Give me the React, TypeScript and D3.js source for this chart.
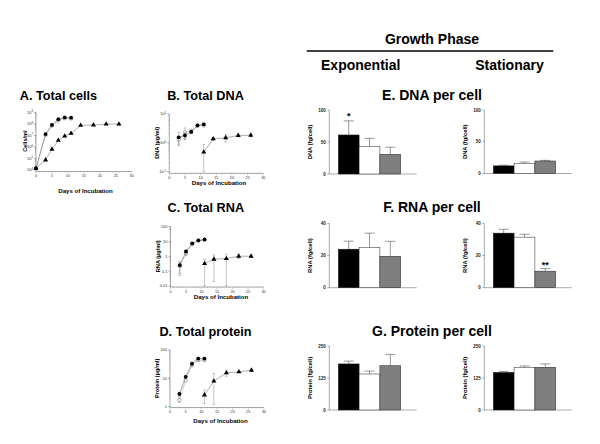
import * as d3 from 'd3';

const FONT = '"Liberation Sans", Arial, Helvetica, sans-serif';

// ---- time courses (days of incubation) ----
const cellsDaysExp = [0, 3, 5, 7, 9, 11];
const cellsExpFilled = [1.4e4, 1.3e7, 8e7, 2.5e8, 3.6e8, 3.4e8];
const cellsExpOpen = [1.4e4, 1.1e7, 7e7, 1.9e8, 3.1e8, 2.9e8];
const cellsDaysStat = [0, 3, 5, 7, 9, 11, 14, 18, 22, 26];
const cellsStat = [1.4e4, 7.4e4, 6.2e5, 3.7e6, 8.7e6, 1.5e7, 7.4e7, 8e7, 9.5e7, 9.5e7];

const expDays = [3, 5, 7, 9, 11];
const statDays = [11, 14, 18, 22, 26];

const dnaExpFilled = [1.55, 1.8, 2.4, 4.0, 4.4];
const dnaExpFilledSd = [0.75, 0.5, 0.3, 0.3, 0.4];
const dnaExpOpen = [1.3, 2.3, 2.6, 4.0, 4.0];
const dnaExpOpenSd = [0.4, 1.0, 0.3, 0.3, 0.3];
const dnaStat = [0.48, 1.37, 1.5, 1.8, 1.83];
const dnaStatSd = [0.4, 0.15, 0.45, 0.2, 0.2];

const rnaExpFilled = [0.25, 2.1, 7.4, 11.7, 13.5];
const rnaExpFilledSd = [0.2, 0.6, 1, 1.5, 1.5];
const rnaExpOpen = [0.22, 1.6, 6.5, 11, 12];
const rnaExpOpenSd = [0.15, 0.5, 1, 1.5, 1.5];
const rnaStat = [0.32, 0.63, 0.7, 1.0, 1.0];
const rnaStatSd = [0.31, 0.61, 0.69, 0.3, 0.2];

const protExpFilled = [2.8, 11.3, 33, 50, 50];
const protExpFilledSd = [0.5, 1.5, 4, 5, 5];
const protExpOpen = [1.7, 8.6, 29, 44, 44];
const protExpOpenSd = [0.3, 1, 3, 4, 4];
const protStat = [2.6, 8, 15.6, 16.9, 19.4];
const protStatSd = [1.3, 6.8, 3.8, 1, 1];

const xTicks = [0, 5, 10, 15, 20, 25, 30];

// ---- per-cell values, three bars per phase ----
const barGroups = ['black', 'white', 'gray'];
const barFill: Record<string, string> = { black: '#000', white: '#fff', gray: '#7f7f7f' };

const dnaPerCellExp = [61, 42.7, 30.8];
const dnaPerCellExpSd = [22, 13, 11];
const dnaPerCellStat = [12, 16, 19.7];
const dnaPerCellStatSd = [1, 2, 1];
const rnaPerCellExp = [24, 25, 19.6];
const rnaPerCellExpSd = [5, 9, 9.3];
const rnaPerCellStat = [34, 31.5, 10.3];
const rnaPerCellStatSd = [2.4, 1.8, 1.6];
const protPerCellExp = [180, 140.6, 173];
const protPerCellExpSd = [11, 11.5, 44];
const protPerCellStat = [147, 167, 167];
const protPerCellStatSd = [4, 5, 13];

type Marker = 'filled' | 'open' | 'triangle';
interface Series { days: number[]; values: number[]; sd?: number[]; marker: Marker }

interface LogPanelProps {
  title: string; titleX: number; titleY: number;
  yLabel: string; yLabelX: number;
  x0: number; x1: number; yTop: number; yBottom: number; axisY: number;
  domain: [number, number]; ticks: number[]; sup: boolean;
  daysX: number; daysY: number;
  series: Series[];
}

const tri = d3.symbol().type(d3.symbolTriangle).size(11)() as string;

function LogPanel(p: LogPanelProps) {
  const x = d3.scaleLinear().domain([0, 30]).range([p.x0, p.x1]);
  const y = d3.scaleLog().domain(p.domain).range([p.yBottom, p.yTop]);
  const line = d3.line<[number, number]>().x(d => x(d[0])).y(d => y(d[1]));
  const minor: number[] = [];
  const e0 = Math.round(Math.log10(p.domain[0]));
  const e1 = Math.round(Math.log10(p.domain[1]));
  for (let e = e0; e < e1; e++) for (let k = 2; k < 10; k++) minor.push(k * Math.pow(10, e));
  const days = d3.range(0, 31);
  const order: Marker[] = ['open', 'filled', 'triangle'];
  const sorted = [...p.series].sort((a, b) => order.indexOf(a.marker) - order.indexOf(b.marker));
  return (
    <g fontFamily={FONT}>
      <text x={p.titleX} y={p.titleY + 4.5} fontSize={12.7} fontWeight="bold" textAnchor="middle">{p.title}</text>
      {/* axes */}
      <line x1={p.x0} x2={p.x0} y1={p.yTop} y2={p.axisY} stroke="#555" strokeWidth={0.5} />
      <line x1={p.x0} x2={p.x1} y1={p.axisY} y2={p.axisY} stroke="#555" strokeWidth={0.5} />
      {p.ticks.map(t => (
        <g key={t}>
          <line x1={p.x0 - 2} x2={p.x0} y1={y(t)} y2={y(t)} stroke="#555" strokeWidth={0.5} />
          <text x={p.x0 - 3} y={y(t) + 1.4} fontSize={4} textAnchor="end" fill="#333">
            {p.sup ? (
              <>10<tspan dy={-1.6} fontSize={2.8}>{Math.round(Math.log10(t))}</tspan></>
            ) : String(t)}
          </text>
        </g>
      ))}
      {minor.map(t => (
        <line key={t} x1={p.x0 - 1} x2={p.x0} y1={y(t)} y2={y(t)} stroke="#777" strokeWidth={0.4} />
      ))}
      {days.map(d => (
        <line key={d} x1={x(d)} x2={x(d)} y1={p.axisY} y2={p.axisY + (d % 5 === 0 ? 2 : 1)} stroke="#777" strokeWidth={0.4} />
      ))}
      {xTicks.map(t => (
        <text key={t} x={x(t)} y={p.axisY + 5.5} fontSize={3.8} textAnchor="middle" fill="#333">{t}</text>
      ))}
      <text x={p.daysX} y={p.daysY + 2} fontSize={6.1} fontWeight="bold" textAnchor="middle">Days of Incubation</text>
      <text transform={`translate(${p.yLabelX},${(p.yTop + p.yBottom) / 2}) rotate(-90)`} fontSize={5.6} fontWeight="bold" textAnchor="middle" dy={2}>{p.yLabel}</text>
      {/* data */}
      {sorted.map((s, i) => {
        const pts = s.days.map((d, j) => [d, s.values[j]] as [number, number]);
        return (
          <g key={i}>
            <path d={line(pts) ?? ''} fill="none" stroke={s.marker === 'open' ? '#aaa' : '#777'} strokeWidth={0.6} />
            {s.sd && pts.map(([d, v], j) => {
              const sd = s.sd![j];
              const lo = Math.max(v - sd, p.domain[0]);
              const hi = Math.min(v + sd, p.domain[1]);
              const cx = x(d);
              return (
                <g key={j} stroke="#888" strokeWidth={0.5}>
                  <line x1={cx} x2={cx} y1={y(lo)} y2={y(hi)} />
                  <line x1={cx - 1.3} x2={cx + 1.3} y1={y(hi)} y2={y(hi)} />
                  <line x1={cx - 1.3} x2={cx + 1.3} y1={y(lo)} y2={y(lo)} />
                </g>
              );
            })}
            {pts.map(([d, v], j) =>
              s.marker === 'triangle' ? (
                <path key={j} d={tri} transform={`translate(${x(d)},${y(v)})`} fill="#000" />
              ) : s.marker === 'filled' ? (
                <circle key={j} cx={x(d)} cy={y(v)} r={1.9} fill="#000" />
              ) : (
                <circle key={j} cx={x(d)} cy={y(v)} r={1.7} fill="#fff" stroke="#777" strokeWidth={0.6} />
              )
            )}
          </g>
        );
      })}
    </g>
  );
}

interface BarPanelProps {
  axisX: number; y0: number; yTopPx: number; max: number; ticks: number[];
  values: number[]; sd: number[]; yLabel: string; stars?: { index: number; text: string; y: number };
}

function BarPanel(p: BarPanelProps) {
  const y = d3.scaleLinear().domain([0, p.max]).range([p.y0, p.yTopPx]);
  const x = d3.scaleBand().domain(barGroups).range([p.axisX + 9, p.axisX + 71.4]).paddingInner(0);
  return (
    <g fontFamily={FONT}>
      <line x1={p.axisX} x2={p.axisX} y1={p.yTopPx} y2={p.y0} stroke="#555" strokeWidth={0.5} />
      <line x1={p.axisX} x2={p.axisX + 87.4} y1={p.y0} y2={p.y0} stroke="#555" strokeWidth={0.5} />
      {p.ticks.map(t => (
        <g key={t}>
          <line x1={p.axisX - 2} x2={p.axisX} y1={y(t)} y2={y(t)} stroke="#555" strokeWidth={0.5} />
          <text x={p.axisX - 3.6} y={y(t) + 1.6} fontSize={4.5} fontWeight="bold" textAnchor="end" fill="#222">{t}</text>
        </g>
      ))}
      <text transform={`translate(${p.axisX - 19.3},${(p.y0 + p.yTopPx) / 2}) rotate(-90)`} fontSize={5.8} fontWeight="bold" textAnchor="middle" dy={2}>{p.yLabel}</text>
      {barGroups.map((g, i) => {
        const bx = x(g)!;
        const bw = x.bandwidth();
        const top = y(p.values[i]);
        const errTop = y(p.values[i] + p.sd[i]);
        const cx = bx + bw / 2;
        return (
          <g key={g}>
            <line x1={cx} x2={cx} y1={top} y2={errTop} stroke="#333" strokeWidth={0.5} />
            <line x1={cx - 5} x2={cx + 5} y1={errTop} y2={errTop} stroke="#333" strokeWidth={0.5} />
            <rect x={bx} y={top} width={bw} height={p.y0 - top} fill={barFill[g]} stroke="#222" strokeWidth={0.5} />
          </g>
        );
      })}
      {p.stars && (
        <text x={x(barGroups[p.stars.index])! + x.bandwidth() / 2} y={p.stars.y + 3.5} fontSize={9} fontWeight="bold" textAnchor="middle">{p.stars.text}</text>
      )}
    </g>
  );
}

export default function App() {
  return (
    <svg width={600} height={444} style={{ position: 'absolute', left: 0, top: 0, background: '#fff' }}>
      <g fontFamily={FONT} fontWeight="bold" fontSize={14} textAnchor="middle">
        <text x={432} y={44}>Growth Phase</text>
        <text x={360.7} y={70}>Exponential</text>
        <text x={509.5} y={70}>Stationary</text>
      </g>
      <line x1={306.7} x2={553.3} y1={51} y2={51} stroke="#000" strokeWidth={1.3} />

      <LogPanel title="A. Total cells" titleX={58.5} titleY={95} yLabel="Cells/ml" yLabelX={25}
        x0={36} x1={131.7} yTop={112.3} yBottom={170} axisY={171.5}
        domain={[1e4, 1e9]} ticks={[1e4, 1e5, 1e6, 1e7, 1e8, 1e9]} sup
        daysX={85.5} daysY={191}
        series={[
          { days: cellsDaysExp, values: cellsExpOpen, marker: 'open' },
          { days: cellsDaysExp, values: cellsExpFilled, marker: 'filled' },
          { days: cellsDaysStat, values: cellsStat, marker: 'triangle' },
        ]} />
      <LogPanel title="B. Total DNA" titleX={205.5} titleY={95} yLabel="DNA (µg/ml)" yLabelX={156.7}
        x0={169.3} x1={263.3} yTop={114} yBottom={171.7} axisY={173.3}
        domain={[0.1, 10]} ticks={[0.1, 1, 10]} sup
        daysX={219} daysY={182.7}
        series={[
          { days: expDays, values: dnaExpOpen, sd: dnaExpOpenSd, marker: 'open' },
          { days: expDays, values: dnaExpFilled, sd: dnaExpFilledSd, marker: 'filled' },
          { days: statDays, values: dnaStat, sd: dnaStatSd, marker: 'triangle' },
        ]} />
      <LogPanel title="C. Total RNA" titleX={205.8} titleY={207} yLabel="RNA (µg/ml)" yLabelX={157.7}
        x0={170.5} x1={263.5} yTop={226.5} yBottom={286} axisY={287}
        domain={[0.01, 100]} ticks={[0.01, 0.1, 1, 10, 100]} sup={false}
        daysX={221} daysY={297.3}
        series={[
          { days: expDays, values: rnaExpOpen, sd: rnaExpOpenSd, marker: 'open' },
          { days: expDays, values: rnaExpFilled, sd: rnaExpFilledSd, marker: 'filled' },
          { days: statDays, values: rnaStat, sd: rnaStatSd, marker: 'triangle' },
        ]} />
      <LogPanel title="D. Total protein" titleX={205.5} titleY={331.5} yLabel="Protein (µg/ml)" yLabelX={156.7}
        x0={170} x1={264} yTop={350} yBottom={406.7} axisY={407.5}
        domain={[1, 100]} ticks={[1, 10, 100]} sup={false}
        daysX={220.5} daysY={420.7}
        series={[
          { days: expDays, values: protExpOpen, sd: protExpOpenSd, marker: 'open' },
          { days: expDays, values: protExpFilled, sd: protExpFilledSd, marker: 'filled' },
          { days: statDays, values: protStat, sd: protStatSd, marker: 'triangle' },
        ]} />

      <g fontFamily={FONT} fontWeight="bold" fontSize={14} textAnchor="middle">
        <text x={432} y={100}>E. DNA per cell</text>
        <text x={432} y={212}>F. RNA per cell</text>
        <text x={432} y={336}>G. Protein per cell</text>
      </g>

      <BarPanel axisX={329.3} y0={174} yTopPx={110} max={100} ticks={[0, 50, 100]}
        values={dnaPerCellExp} sd={dnaPerCellExpSd} yLabel="DNA (fg/cell)"
        stars={{ index: 0, text: '*', y: 115 }} />
      <BarPanel axisX={484.3} y0={173.5} yTopPx={110} max={100} ticks={[0, 50, 100]}
        values={dnaPerCellStat} sd={dnaPerCellStatSd} yLabel="DNA (fg/cell)" />
      <BarPanel axisX={329.3} y0={287.7} yTopPx={223.5} max={40} ticks={[0, 20, 40]}
        values={rnaPerCellExp} sd={rnaPerCellExpSd} yLabel="RNA (fg/cell)" />
      <BarPanel axisX={484.3} y0={287.7} yTopPx={223.5} max={40} ticks={[0, 20, 40]}
        values={rnaPerCellStat} sd={rnaPerCellStatSd} yLabel="RNA (fg/cell)"
        stars={{ index: 2, text: '**', y: 264.3 }} />
      <BarPanel axisX={329.3} y0={410} yTopPx={346} max={250} ticks={[0, 125, 250]}
        values={protPerCellExp} sd={protPerCellExpSd} yLabel="Protein (fg/cell)" />
      <BarPanel axisX={484.3} y0={410} yTopPx={346} max={250} ticks={[0, 125, 250]}
        values={protPerCellStat} sd={protPerCellStatSd} yLabel="Protein (fg/cell)" />
    </svg>
  );
}
